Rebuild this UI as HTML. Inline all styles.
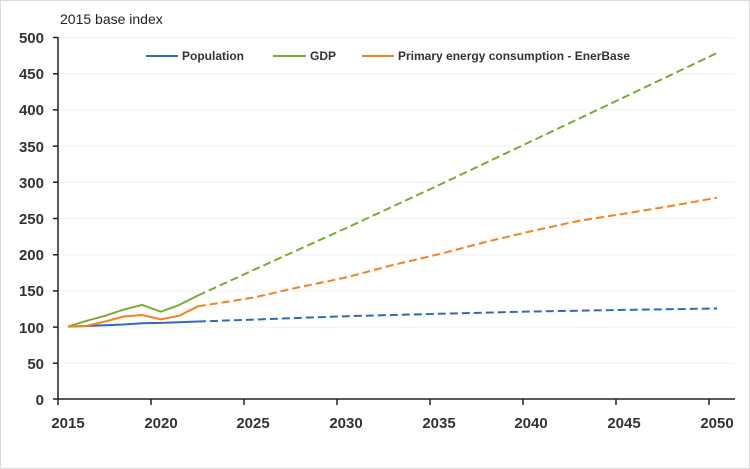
<!DOCTYPE html>
<html><head><meta charset="utf-8"><style>
html,body{margin:0;padding:0;background:#fff}
svg{display:block;font-family:"Liberation Sans","DejaVu Sans",sans-serif}
</style></head><body>
<svg width="750" height="469" viewBox="0 0 750 469">
<rect x="0.5" y="0.5" width="749" height="468" fill="#fff" stroke="#d9d9d9"/>
<text x="60" y="24" font-size="14" fill="#222">2015 base index</text>
<g stroke="#f0f0f0" stroke-width="1">
<line x1="58" x2="735" y1="37.5" y2="37.5"/><line x1="58" x2="735" y1="73.7" y2="73.7"/>
<line x1="58" x2="735" y1="109.9" y2="109.9"/><line x1="58" x2="735" y1="146.1" y2="146.1"/>
<line x1="58" x2="735" y1="182.3" y2="182.3"/><line x1="58" x2="735" y1="218.5" y2="218.5"/>
<line x1="58" x2="735" y1="254.7" y2="254.7"/><line x1="58" x2="735" y1="290.9" y2="290.9"/>
<line x1="58" x2="735" y1="327.1" y2="327.1"/><line x1="58" x2="735" y1="363.3" y2="363.3"/>
</g>
<g stroke="#222" stroke-width="1.5" fill="none">
<line x1="58" y1="37" x2="58" y2="399"/><line x1="58" y1="399" x2="735" y2="399"/>
<path d="M53 37.5H58M53 73.7H58M53 109.9H58M53 146.1H58M53 182.3H58M53 218.5H58M53 254.7H58M53 290.9H58M53 327.1H58M53 363.3H58M53 399H58"/>
<path d="M58 399V405M151 399V405M244 399V405M337 399V405M430 399V405M523 399V405M616 399V405M709 399V405"/>
</g>
<g font-size="15" font-weight="bold" fill="#333" text-anchor="end">
<text x="44" y="43">500</text><text x="44" y="79">450</text><text x="44" y="115">400</text>
<text x="44" y="152">350</text><text x="44" y="188">300</text><text x="44" y="224">250</text>
<text x="44" y="260">200</text><text x="44" y="296">150</text><text x="44" y="333">100</text>
<text x="44" y="369">50</text><text x="44" y="405">0</text>
</g>
<g font-size="15" font-weight="bold" fill="#333" text-anchor="middle">
<text x="68" y="428">2015</text><text x="161" y="428">2020</text><text x="253" y="428">2025</text>
<text x="346" y="428">2030</text><text x="439" y="428">2035</text><text x="531" y="428">2040</text>
<text x="624" y="428">2045</text><text x="717" y="428">2050</text>
</g>
<!-- legend -->
<g font-size="12" font-weight="bold" fill="#333">
<line x1="146" y1="56" x2="178" y2="56" stroke="#2e6bbf" stroke-width="2"/><text x="182" y="60">Population</text>
<line x1="273" y1="56" x2="306" y2="56" stroke="#7aab32" stroke-width="2"/><text x="310" y="60">GDP</text>
<line x1="362" y1="56" x2="394" y2="56" stroke="#f5821f" stroke-width="2"/><text x="398" y="60">Primary energy consumption - EnerBase</text>
</g>
<g fill="none" stroke-width="2" stroke-linejoin="round">
<!-- population -->
<polyline stroke="#2e6bbf" points="68,326.6 86.6,326 105.1,325.2 123.7,324.5 142.2,323.3 160.8,322.9 179.3,322.2 197.9,321.5"/>
<polyline stroke="#2e6bbf" stroke-dasharray="8,4" points="197.9,321.5 253.5,319.6 346.3,316.2 439.1,313.8 531.8,311.5 624.6,309.9 717,308.5"/>
<!-- GDP -->
<polyline stroke="#7aab32" points="68,326.6 86.6,320.8 105.1,315.8 123.7,309.6 142.2,304.9 160.8,311.7 179.3,304.9 197.9,295.5"/>
<polyline stroke="#7aab32" stroke-dasharray="8,4" points="197.9,295.5 253.5,270 346.3,228 439.1,185 531.8,141 624.6,97 717,53"/>
<!-- energy -->
<polyline stroke="#f5821f" points="68,326.6 86.6,325.9 105.1,321.5 123.7,316.5 142.2,315 160.8,319.4 179.3,315.7 197.9,306.3"/>
<polyline stroke="#f5821f" stroke-dasharray="8,4" points="197.9,306.3 253.5,297.6 300,287 346.3,277.4 392.7,265 439.1,254.2 485.5,242 531.8,231 578,221 624.6,213.6 671,206 717,197.7"/>
</g>
</svg>
</body></html>
